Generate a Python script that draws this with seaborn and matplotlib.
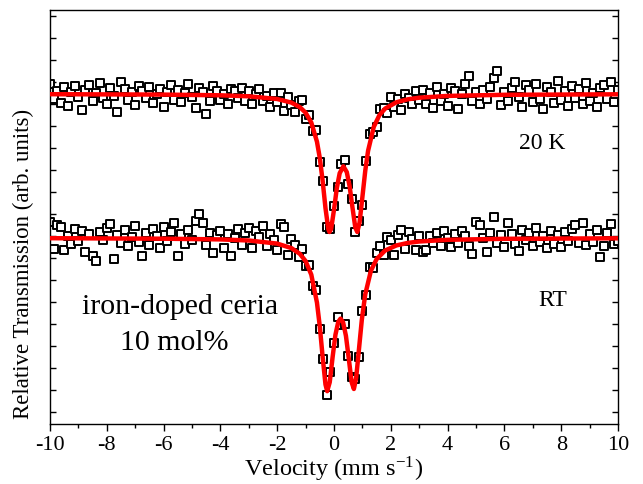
import matplotlib
matplotlib.use('Agg')
import matplotlib.pyplot as plt
import seaborn as sns
from matplotlib.ticker import MultipleLocator

# ─── Data ──────────────────────────────────────────────────────────────────────
# velocity channels (mm/s)
velocity = [
    -10.000, -9.875, -9.750, -9.625, -9.500, -9.375, -9.250, -9.125,
    -9.000, -8.875, -8.750, -8.625, -8.500, -8.375, -8.250, -8.125,
    -8.000, -7.875, -7.750, -7.625, -7.500, -7.375, -7.250, -7.125,
    -7.000, -6.875, -6.750, -6.625, -6.500, -6.375, -6.250, -6.125,
    -6.000, -5.875, -5.750, -5.625, -5.500, -5.375, -5.250, -5.125,
    -5.000, -4.875, -4.750, -4.625, -4.500, -4.375, -4.250, -4.125,
    -4.000, -3.875, -3.750, -3.625, -3.500, -3.375, -3.250, -3.125,
    -3.000, -2.875, -2.750, -2.625, -2.500, -2.375, -2.250, -2.125,
    -2.000, -1.875, -1.750, -1.625, -1.500, -1.375, -1.250, -1.125,
    -1.000, -0.875, -0.750, -0.625, -0.500, -0.375, -0.250, -0.125,
    0.000, 0.125, 0.250, 0.375, 0.500, 0.625, 0.750, 0.875,
    1.000, 1.125, 1.250, 1.375, 1.500, 1.625, 1.750, 1.875,
    2.000, 2.125, 2.250, 2.375, 2.500, 2.625, 2.750, 2.875,
    3.000,
    3.125, 3.250, 3.375, 3.500, 3.625, 3.750, 3.875, 4.000,
    4.125, 4.250, 4.375, 4.500, 4.625, 4.750, 4.875, 5.000,
    5.125, 5.250, 5.375, 5.500, 5.625, 5.750, 5.875, 6.000,
    6.125, 6.250, 6.375, 6.500, 6.625, 6.750, 6.875, 7.000,
    7.125, 7.250, 7.375, 7.500, 7.625, 7.750, 7.875, 8.000,
    8.125, 8.250, 8.375, 8.500, 8.625, 8.750, 8.875, 9.000,
    9.125, 9.250, 9.375, 9.500, 9.625, 9.750, 9.875, 10.000,
]

# normalised transmission, 20 K
t_20k = [
    1.010, 0.995, 1.003, 0.991, 1.007, 0.988, 1.002, 1.008,
    0.997, 0.984, 1.004, 1.009, 0.993, 1.001, 1.011, 0.996,
    0.990, 1.006, 0.998, 0.982, 1.012, 1.005, 0.994, 1.002,
    0.989, 1.008, 1.003, 0.996, 1.007, 0.991, 1.000, 1.005,
    0.987, 1.002, 1.009, 0.994, 1.004, 0.992, 1.001, 1.010,
    0.997, 0.986, 1.006, 1.002, 0.980, 0.993, 1.008, 1.003,
    0.994, 1.000, 0.990, 1.005, 1.003, 0.996, 1.006, 0.993,
    1.003, 0.990, 1.000, 1.005, 0.993, 0.998, 0.987, 1.001,
    0.992, 1.001, 0.983, 0.997, 0.989, 0.982, 0.993, 0.994,
    0.975, 0.979, 0.963, 0.964, 0.932, 0.913, 0.867, 0.865,
    0.888, 0.907, 0.930, 0.934, 0.910, 0.895, 0.862, 0.873,
    0.889, 0.933, 0.960, 0.962, 0.967, 0.985, 0.986, 0.981,
    0.997, 0.987, 0.995, 0.984, 1.000, 0.996, 0.990, 1.003,
    0.994,
    1.004, 0.990, 1.001, 0.986, 1.007, 0.993, 1.000, 0.988,
    1.006, 1.003, 0.985, 1.000, 1.010, 1.018, 0.993, 1.002,
    0.990, 1.004, 0.995, 1.007, 1.016, 1.023, 0.989, 1.002,
    0.993, 1.006, 1.012, 0.997, 0.987, 1.009, 1.004, 0.992,
    1.010, 0.995, 0.985, 1.007, 1.002, 0.991, 1.013, 0.994,
    1.003, 0.988, 1.008, 0.996, 1.005, 0.990, 1.011, 0.993,
    1.001, 0.987, 1.006, 1.009, 0.995, 1.012, 0.992, 1.004,
]

# normalised transmission, room temperature
t_rt = [
    1.016, 0.989, 1.013, 1.011, 0.988, 1.002, 0.994, 1.009,
    0.997, 1.007, 0.986, 1.004, 0.982, 0.977, 1.006, 0.998,
    1.010, 1.014, 0.979, 1.003, 0.995, 1.008, 0.992, 1.001,
    1.012, 0.996, 0.982, 1.005, 0.993, 1.009, 1.002, 0.990,
    1.011, 0.997, 1.006, 1.015, 0.982, 1.004, 0.994, 1.008,
    0.998, 1.017, 1.024, 1.015, 0.993, 1.005, 0.985, 1.003,
    1.007, 0.990, 1.004, 0.982, 1.000, 1.009, 0.993, 1.005,
    1.010, 0.990, 1.007, 1.001, 1.012, 0.992, 1.004, 0.998,
    0.988, 1.014, 1.011, 0.983, 0.999, 0.993, 0.981, 0.989,
    0.972, 0.973, 0.952, 0.948, 0.909, 0.879, 0.843, 0.866,
    0.895, 0.921, 0.913, 0.914, 0.882, 0.861, 0.859, 0.881,
    0.927, 0.943, 0.971, 0.970, 0.985, 0.992, 0.983, 1.001,
    0.998, 0.983, 1.003, 1.008, 0.989, 1.006, 0.999, 0.988,
    1.002,
    0.986, 0.988, 1.002, 0.995, 1.005, 0.992, 1.007, 1.000,
    0.991, 1.004, 0.995, 1.007, 1.002, 0.992, 0.984, 1.016,
    1.013, 1.000, 0.986, 1.005, 1.021, 0.995, 1.003, 0.991,
    1.015, 1.004, 0.994, 0.987, 1.008, 0.998, 1.005, 0.992,
    1.010, 0.996, 1.002, 0.990, 1.007, 0.994, 1.003, 0.991,
    1.006, 0.997, 1.009, 1.013, 0.995, 1.015, 0.993, 1.004,
    0.996, 1.008, 0.981, 0.992, 1.005, 1.014, 0.994, 0.997,
]

# fitted doublets (red curves)
fit_20k_v = [-10, -6, -4, -3, -2, -1.5, -1.2, -1.0, -0.8, -0.6,
             -0.5, -0.4, -0.3, -0.2, -0.16, -0.1, 0.0, 0.1, 0.2, 0.33,
             0.45, 0.55, 0.65, 0.75, 0.82, 0.9, 1.0, 1.1, 1.2, 1.4,
             1.6, 1.8, 2.2, 2.6, 3, 4, 6, 10]
fit_20k = [0.9998, 0.9994, 0.9987, 0.9977, 0.9950, 0.9914, 0.9868, 0.9813, 0.9715, 0.9523,
           0.9360, 0.9132, 0.8859, 0.8649, 0.8620, 0.8652, 0.8843, 0.9060, 0.9208, 0.9277,
           0.9219, 0.9078, 0.8866, 0.8665, 0.8620, 0.8714, 0.8970, 0.9231, 0.9432, 0.9671,
           0.9789, 0.9854, 0.9918, 0.9947, 0.9963, 0.9981, 0.9992, 0.9997]

fit_rt_v = [-10, -6, -4, -3, -2, -1.5, -1.2, -1.0, -0.8, -0.6,
            -0.5, -0.4, -0.3, -0.24, -0.15, -0.05, 0.05, 0.15, 0.23, 0.32,
            0.42, 0.52, 0.62, 0.70, 0.78, 0.88, 0.98, 1.1, 1.3, 1.5,
            1.8, 2.2, 2.6, 3, 4, 6, 10]
fit_rt = [0.9998, 0.9993, 0.9986, 0.9975, 0.9944, 0.9899, 0.9841, 0.9769, 0.9634, 0.9354,
          0.9116, 0.8811, 0.8535, 0.8468, 0.8558, 0.8807, 0.9032, 0.9161, 0.9194, 0.9157,
          0.9022, 0.8796, 0.8559, 0.8490, 0.8600, 0.8891, 0.9183, 0.9436, 0.9673, 0.9789,
          0.9875, 0.9926, 0.9951, 0.9965, 0.9982, 0.9992, 0.9997]

RT_OFFSET = -0.144  # vertical shift of the RT spectrum

# ─── Style ────────────────────────────────────────────────────────────────────
sns.set_theme(style='ticks', rc={
    'axes.edgecolor': 'black', 'axes.labelcolor': 'black', 'text.color': 'black',
    'xtick.color': 'black', 'ytick.color': 'black', 'axes.linewidth': 1.0,
})
plt.rcParams['font.family'] = ['Liberation Serif', 'DejaVu Serif']
plt.rcParams['mathtext.fontset'] = 'stix'
plt.rcParams['axes.unicode_minus'] = False

fig = plt.figure(figsize=(6.43, 4.85), dpi=100)
ax = fig.add_axes([50 / 643, 60 / 485, 568 / 643, 414 / 485])

# ─── Spectra ──────────────────────────────────────────────────────────────────
marker_kw = dict(marker='s', s=30, color='white', edgecolor='black', linewidth=1.4, zorder=2)
sns.scatterplot(x=velocity, y=t_20k, ax=ax, **marker_kw)
sns.scatterplot(x=velocity, y=[t + RT_OFFSET for t in t_rt], ax=ax, **marker_kw)

sns.lineplot(x=fit_20k_v, y=fit_20k, ax=ax, color='red', linewidth=3.2, sort=False, zorder=3)
sns.lineplot(x=fit_rt_v, y=[t + RT_OFFSET for t in fit_rt], ax=ax, color='red',
             linewidth=3.2, sort=False, zorder=3)

# ─── Labels ───────────────────────────────────────────────────────────────────
ax.text(7.33, 0.952, '20 K', ha='center', va='center', fontsize=17)
ax.text(7.69, 0.795, 'RT', ha='center', va='center', fontsize=17)
ax.text(-5.41, 0.788, 'iron-doped ceria', ha='center', va='center', fontsize=21.5)
ax.text(-5.62, 0.752, '10 mol%', ha='center', va='center', fontsize=21.5)

ax.set_xlim(-10, 10)
ax.set_ylim(0.670, 1.084)
ax.xaxis.set_major_locator(MultipleLocator(2))
ax.xaxis.set_minor_locator(MultipleLocator(1))
ax.yaxis.set_major_locator(MultipleLocator(0.022))
ax.tick_params(axis='x', which='major', direction='out', length=5, width=1,
               labelsize=16, pad=3, top=False)
ax.tick_params(axis='x', which='minor', direction='out', length=3, width=1, top=False)
ax.tick_params(axis='y', which='both', direction='in', length=4, width=1,
               left=True, right=True, labelleft=False)
for side in ['top', 'right', 'left', 'bottom']:
    ax.spines[side].set_visible(True)

ax.set_xlabel('Velocity (mm s$^{\\mathregular{-1}}$)', fontsize=17.5, labelpad=0)
ax.set_ylabel('Relative Transmission (arb. units)', fontsize=16.5)
ax.yaxis.set_label_coords(-0.028, 0.39)

fig.savefig('out.png', dpi=100)
